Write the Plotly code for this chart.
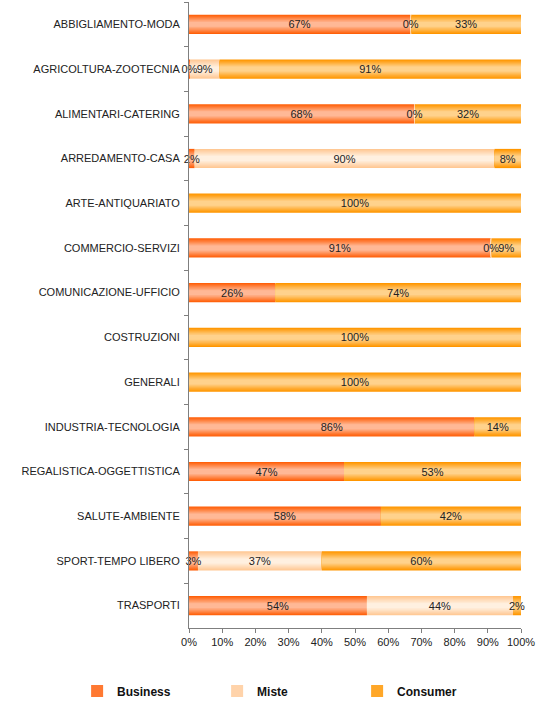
import plotly.graph_objects as go

# categories (top to bottom)
categories = [
    "ABBIGLIAMENTO-MODA", "AGRICOLTURA-ZOOTECNIA", "ALIMENTARI-CATERING",
    "ARREDAMENTO-CASA", "ARTE-ANTIQUARIATO", "COMMERCIO-SERVIZI",
    "COMUNICAZIONE-UFFICIO", "COSTRUZIONI", "GENERALI",
    "INDUSTRIA-TECNOLOGIA", "REGALISTICA-OGGETTISTICA", "SALUTE-AMBIENTE",
    "SPORT-TEMPO LIBERO", "TRASPORTI",
]

# shares in percent (None = no segment / no label)
business = [66.6, 0.3, 67.8, 1.7, None, 90.9, 26.0, None, None, 86.0, 46.7, 57.8, 2.7, 53.6]
miste = [0.4, 8.9, 0.3, 90.3, None, 0.3, None, None, None, None, None, None, 37.3, 44.0]
consumer = [33.0, 90.8, 31.9, 8.0, 100.0, 8.8, 74.0, 100.0, 100.0, 14.0, 53.3, 42.2, 60.0, 2.4]

x_ticks = [0, 10, 20, 30, 40, 50, 60, 70, 80, 90, 100]
x_tick_labels = ["%d%%" % v for v in x_ticks]

series = [
    ("Business", business, (255, 96, 10), (255, 184, 150)),
    ("Miste", miste, (255, 200, 148), (255, 240, 224)),
    ("Consumer", consumer, (255, 150, 0), (255, 210, 140)),
]

BAR_W = 0.43
N_LAYERS = 8
FONT = "Liberation Sans, Arial, sans-serif"


def mix(c0, c1, t):
    return "rgb(%d,%d,%d)" % tuple(round(a + (b - a) * t) for a, b in zip(c0, c1))


fig = go.Figure()

base = [0.0] * len(categories)
text_traces = []
for name, vals, edge, center in series:
    xs = [v if v is not None else 0 for v in vals]
    # fake the Excel "from centre" gradient with nested, narrowing bars
    for k in range(N_LAYERS):
        t = k / (N_LAYERS - 1)
        fig.add_trace(go.Bar(
            y=categories, x=xs, base=base, orientation="h",
            width=BAR_W * (1 - 0.85 * k / N_LAYERS),
            marker=dict(color=mix(edge, center, t), line_width=0),
            name=name, legendgroup=name, showlegend=(k == 2),
            hoverinfo="skip",
        ))
    text_traces.append(go.Bar(
        y=categories, x=xs, base=base, orientation="h", width=BAR_W,
        marker=dict(color="rgba(0,0,0,0)", line_width=0),
        text=[("%d%%" % round(v)) if v is not None else "" for v in vals],
        textposition="inside", insidetextanchor="middle", textangle=0,
        textfont=dict(family=FONT, size=11, color="#222"),
        constraintext="none", cliponaxis=False,
        showlegend=False, hoverinfo="skip",
    ))
    base = [b + x for b, x in zip(base, xs)]

for tr in text_traces:
    fig.add_trace(tr)

fig.update_layout(
    width=538, height=701,
    barmode="overlay",
    paper_bgcolor="white", plot_bgcolor="white",
    margin=dict(l=189, r=17, t=2, b=73, autoexpand=False),
    font=dict(family=FONT, size=11, color="#222"),
    uniformtext=dict(minsize=11, mode="show"),
    showlegend=True,
    legend=dict(
        orientation="h",
        x=-0.337, xanchor="left",
        y=-0.1006, yanchor="middle",
        font=dict(family=FONT, size=12, color="#111", weight="bold"),
        entrywidth=95, itemwidth=30, traceorder="normal",
        bgcolor="rgba(0,0,0,0)",
    ),
    xaxis=dict(
        range=[0, 100], tickvals=x_ticks, ticktext=x_tick_labels,
        showgrid=False, zeroline=False,
        showline=True, linecolor="#7f7f7f", linewidth=1,
        ticks="outside", ticklen=4, tickcolor="#7f7f7f",
        tickfont=dict(family=FONT, size=11, color="#222"),
    ),
    yaxis=dict(
        categoryorder="array", categoryarray=categories,
        range=[len(categories) - 0.5, -0.5],
        showgrid=False, zeroline=False,
        showline=True, linecolor="#7f7f7f", linewidth=1,
        ticks="outside", ticklen=4, tickcolor="#7f7f7f", tickson="boundaries",
        ticklabelstandoff=6,
        tickfont=dict(family=FONT, size=11, color="#222"),
    ),
)

# drop the default page margin so the figure sits at the window's corner
fig.write_html(
    "out.html",
    config={"displayModeBar": False},
    post_script="document.body.style.margin='0';",
)
